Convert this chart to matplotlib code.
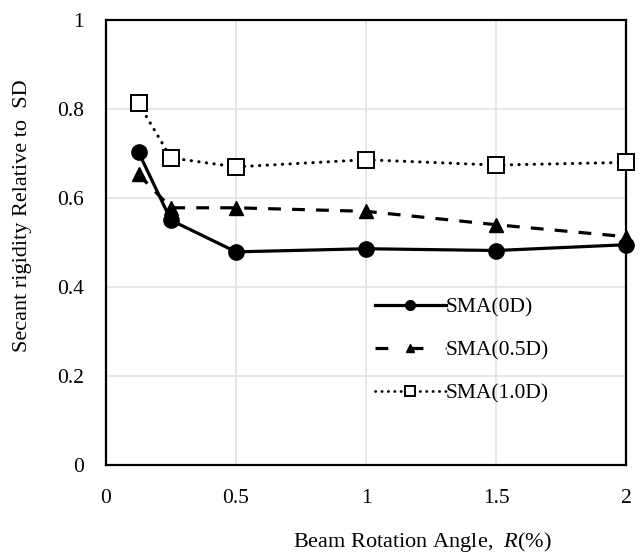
import matplotlib.pyplot as plt
from matplotlib.lines import Line2D

plt.rcParams['font.family'] = ['Liberation Serif', 'DejaVu Serif']
plt.rcParams['mathtext.fontset'] = 'custom'
plt.rcParams['mathtext.it'] = 'Liberation Serif:italic'

# Beam rotation angle R (%)
rotacao = [0.125, 0.25, 0.5, 1.0, 1.5, 2.0]

# Secant rigidity relative to SD
sma_0d = [0.703, 0.550, 0.479, 0.486, 0.482, 0.495]
sma_05d = [0.653, 0.578, 0.578, 0.570, 0.540, 0.513]
sma_10d = [0.813, 0.690, 0.670, 0.686, 0.674, 0.680]

rotulos = ['SMA(0D)', 'SMA(0.5D)', 'SMA(1.0D)']

fig = plt.figure(figsize=(6.41, 5.56), dpi=100)
ax = fig.add_axes([106 / 641, 1 - 465 / 556, 520 / 641, 445 / 556])

ax.plot(rotacao, sma_0d, color='black', lw=2.3, marker='o', ms=11,
        label=rotulos[0], zorder=3, clip_on=False)
ax.plot(rotacao, sma_05d, color='black', lw=2.3, ls=(0, (4, 3.5)), marker='^',
        ms=10, label=rotulos[1], zorder=3, clip_on=False)
ax.plot(rotacao, sma_10d, color='black', lw=2.2, ls=(0, (0.1, 2.4)),
        dash_capstyle='round', marker='s', ms=12, mfc='white', mew=1.4,
        label=rotulos[2], zorder=4, clip_on=False)

ax.set_xlim(0, 2)
ax.set_ylim(0, 1)
ax.set_xticks([0, 0.5, 1, 1.5, 2])
ax.set_xticklabels(['0', '0.5', '1', '1.5', '2'])
ax.set_yticks([0, 0.2, 0.4, 0.6, 0.8, 1])
ax.set_yticklabels(['0', '0.2', '0.4', '0.6', '0.8', '1'])
ax.tick_params(length=0, labelsize=15.5)
ax.tick_params(axis='x', pad=17)
ax.tick_params(axis='y', pad=16)
ax.grid(True, color='#e2e2e2', lw=1.2)
ax.set_axisbelow(True)
for s in ax.spines.values():
    s.set_linewidth(1.6)
    s.set_color('black')

ax.set_ylabel('Secant rigidity Relative to  SD', fontsize=16)
ax.yaxis.set_label_coords(-0.142, 0.56)
ax.set_xlabel('Beam Rotation Angle,  $R$(%)', fontsize=16)
ax.xaxis.set_label_coords(0.608, -0.145)

handles = [
    Line2D([], [], color='black', lw=2.3, marker='o', ms=7),
    Line2D([], [], color='black', lw=2.3, ls=(0, (4, 7)), marker='^', ms=6),
    Line2D([], [], color='black', lw=2.0, ls=(0, (0.1, 2.2)),
           dash_capstyle='round', marker='s', ms=7, mfc='white', mew=1.4),
]
ax.legend(handles, rotulos, loc='upper left', bbox_to_anchor=(0.5, 0.395),
          frameon=False, fontsize=15.5, handlelength=3.3, handletextpad=0.0,
          labelspacing=1.05, borderaxespad=0)

fig.savefig('out.png', dpi=100)
